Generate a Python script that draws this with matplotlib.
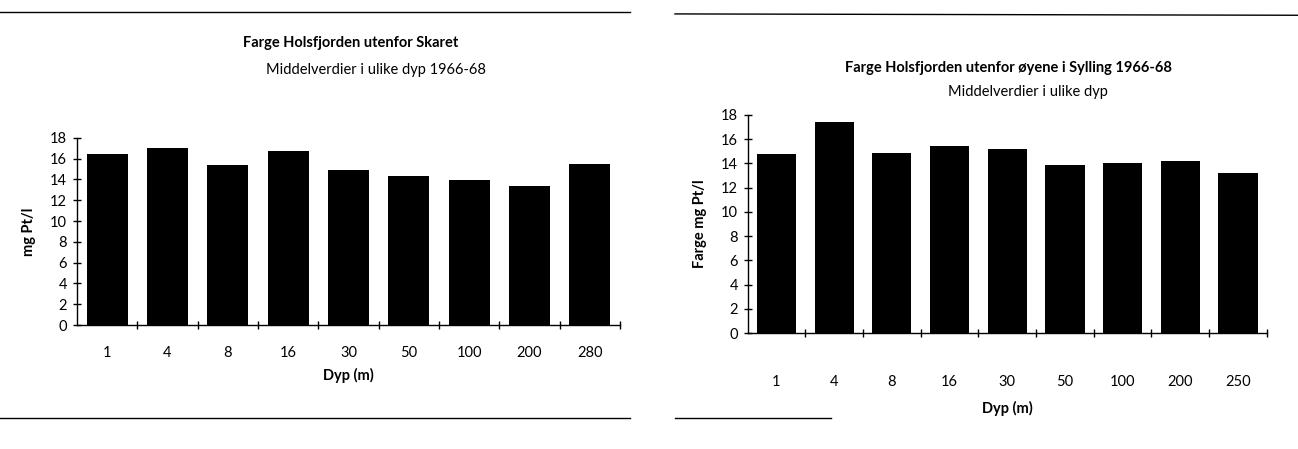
import numpy as np
import matplotlib.pyplot as plt

plt.rcParams['font.family'] = ['Lato', 'DejaVu Sans']

# left chart
depth_left = ['1', '4', '8', '16', '30', '50', '100', '200', '280']
farge_left = [16.4, 17.0, 15.4, 16.7, 14.9, 14.3, 13.9, 13.4, 15.5]

# right chart
depth_right = ['1', '4', '8', '16', '30', '50', '100', '200', '250']
farge_right = [14.8, 17.4, 14.9, 15.4, 15.2, 13.9, 14.0, 14.2, 13.2]

fig = plt.figure(figsize=(12.98, 4.49), dpi=100)


def draw(ax, labels, values, ylabel, xpad, xlpad):
    x = np.arange(len(labels))
    ax.bar(x, values, width=0.68, color='black')
    ax.set_xlim(-0.5, len(labels) - 0.5)
    ax.set_ylim(0, 18)
    ax.set_yticks(range(0, 19, 2))
    ax.set_xticks(x)
    ax.set_xticklabels(labels, fontsize=10.5)
    ax.set_xticks(np.arange(0.5, len(labels), 1), minor=True)
    ax.tick_params(axis='x', which='major', length=0, pad=xpad)
    ax.tick_params(axis='x', which='minor', length=6, direction='inout', width=1)
    ax.tick_params(axis='y', length=6, direction='inout', width=1, labelsize=10.5, pad=4)
    for s in ['top', 'right']:
        ax.spines[s].set_visible(False)
    ax.spines['left'].set_linewidth(1)
    ax.spines['bottom'].set_linewidth(1)
    ax.set_ylabel(ylabel, fontsize=10.5, fontweight='bold', labelpad=10)
    ax.set_xlabel('Dyp (m)', fontsize=10.5, fontweight='bold', labelpad=xlpad)


ax1 = fig.add_axes([0.0593, 0.276, 0.4184, 0.417])
draw(ax1, depth_left, farge_left, 'mg Pt/l', 15, 6)
fig.text(0.27, 0.904, 'Farge Holsfjorden utenfor Skaret', ha='center', va='center',
         fontsize=10.5, fontweight='bold')
fig.text(0.29, 0.845, 'Middelverdier i ulike dyp 1966-68', ha='center', va='center', fontsize=10.5)

ax2 = fig.add_axes([0.576, 0.258, 0.400, 0.486])
draw(ax2, depth_right, farge_right, 'Farge mg Pt/l', 30, 9)
fig.text(0.777, 0.849, 'Farge Holsfjorden utenfor øyene i Sylling 1966-68', ha='center', va='center',
         fontsize=10.5, fontweight='bold')
fig.text(0.792, 0.795, 'Middelverdier i ulike dyp', ha='center', va='center', fontsize=10.5)

# separator lines
fig.add_artist(plt.Line2D([0.0, 0.485], [0.973, 0.973], color='black', lw=1))
fig.add_artist(plt.Line2D([0.0, 0.485], [0.069, 0.069], color='black', lw=1))
fig.add_artist(plt.Line2D([0.52, 1.0], [0.969, 0.966], color='black', lw=1))
fig.add_artist(plt.Line2D([0.52, 0.64], [0.069, 0.069], color='black', lw=1))

fig.savefig('out.png', dpi=100)
